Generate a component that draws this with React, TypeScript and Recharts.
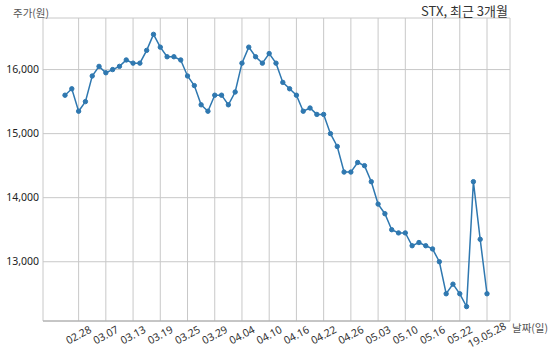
import { LineChart, Line, XAxis, YAxis, CartesianGrid } from 'recharts';

const dates = [
    '02.26', '02.27', '02.28', '03.04', '03.05', '03.06', '03.07', '03.08', '03.11', '03.12',
    '03.13', '03.14', '03.15', '03.18', '03.19', '03.20', '03.21', '03.22', '03.25', '03.26',
    '03.27', '03.28', '03.29', '04.01', '04.02', '04.03', '04.04', '04.05', '04.08', '04.09',
    '04.10', '04.11', '04.12', '04.15', '04.16', '04.17', '04.18', '04.19', '04.22', '04.23',
    '04.24', '04.25', '04.26', '04.29', '04.30', '05.02', '05.03', '05.07', '05.08', '05.09',
    '05.10', '05.13', '05.14', '05.15', '05.16', '05.17', '05.20', '05.21', '05.22', '05.23',
    '05.24', '05.27', '19.05.28'
];

const prices = [
    15600, 15700, 15350, 15500, 15900, 16050, 15950, 16000, 16050, 16150,
    16100, 16100, 16300, 16550, 16350, 16200, 16200, 16150, 15900, 15750,
    15450, 15350, 15600, 15600, 15450, 15650, 16100, 16350, 16200, 16100,
    16250, 16100, 15800, 15700, 15600, 15350, 15400, 15300, 15300, 15000,
    14800, 14400, 14400, 14550, 14500, 14250, 13900, 13750, 13500, 13450,
    13450, 13250, 13300, 13250, 13200, 13000, 12500, 12650, 12500, 12300,
    14250, 13350, 12500
];

const xTicks = [
    '02.28', '03.07', '03.13', '03.19', '03.25', '03.29', '04.04', '04.10',
    '04.16', '04.22', '04.26', '05.03', '05.10', '05.16', '05.22', '19.05.28'
];

const yTicks = [13000, 14000, 15000, 16000];

const data = dates.map((d, i) => ({ date: d, price: prices[i] }));

const FONT = '"Noto Sans", "Noto Sans CJK KR", sans-serif';
const KR_FONT = '"Noto Sans CJK KR", "Noto Sans", sans-serif';
const LINE_COLOR = '#2f78b0';

const DateTick = (props: any) => {
    const { x, y, payload } = props;
    return (
        <g transform={`translate(${x},${y + 14})`}>
            <text
                x={0}
                y={0}
                dy="0.35em"
                textAnchor="middle"
                transform="rotate(-28)"
                fontSize={10.5}
                fontFamily={FONT}
                fill="#333"
            >
                {payload.value}
            </text>
        </g>
    );
};

export default function App() {
    return (
        <div style={{ position: 'absolute', left: 0, top: 0, width: 550, height: 356, background: '#fff' }}>
            <LineChart
                width={550}
                height={356}
                data={data}
                margin={{ top: 18, right: 40, bottom: 0, left: 0 }}
            >
                <CartesianGrid stroke="#c8c8c8" />
                <XAxis
                    dataKey="date"
                    ticks={xTicks}
                    interval={0}
                    height={35}
                    padding={{ left: 22, right: 23 }}
                    tickLine={false}
                    tickSize={0}
                    tickMargin={0}
                    axisLine={{ stroke: '#a8a8a8' }}
                    tick={<DateTick />}
                />
                <YAxis
                    domain={[12075, 16805]}
                    ticks={yTicks}
                    width={43}
                    tickLine={false}
                    axisLine={false}
                    tickSize={2}
                    tickMargin={2}
                    tickFormatter={(v: number) => v.toLocaleString('en-US')}
                    tick={{ fontSize: 10.5, fill: '#222', fontFamily: FONT }}
                />
                <Line
                    type="linear"
                    dataKey="price"
                    stroke={LINE_COLOR}
                    strokeWidth={1.5}
                    dot={{ r: 2.2, fill: LINE_COLOR, stroke: LINE_COLOR, strokeWidth: 1 }}
                    isAnimationActive={false}
                />
            </LineChart>
            <div style={{ position: 'absolute', left: 13, top: 5, fontSize: 10.5, color: '#555', fontFamily: KR_FONT, whiteSpace: 'nowrap' }}>주가(원)</div>
            <div style={{ position: 'absolute', right: 42, top: 1, fontSize: 13, color: '#333', fontFamily: KR_FONT, whiteSpace: 'nowrap' }}>STX, 최근 3개월</div>
            <div style={{ position: 'absolute', left: 512, top: 320, fontSize: 10.5, color: '#555', fontFamily: KR_FONT, whiteSpace: 'nowrap' }}>날짜(일)</div>
        </div>
    );
}
